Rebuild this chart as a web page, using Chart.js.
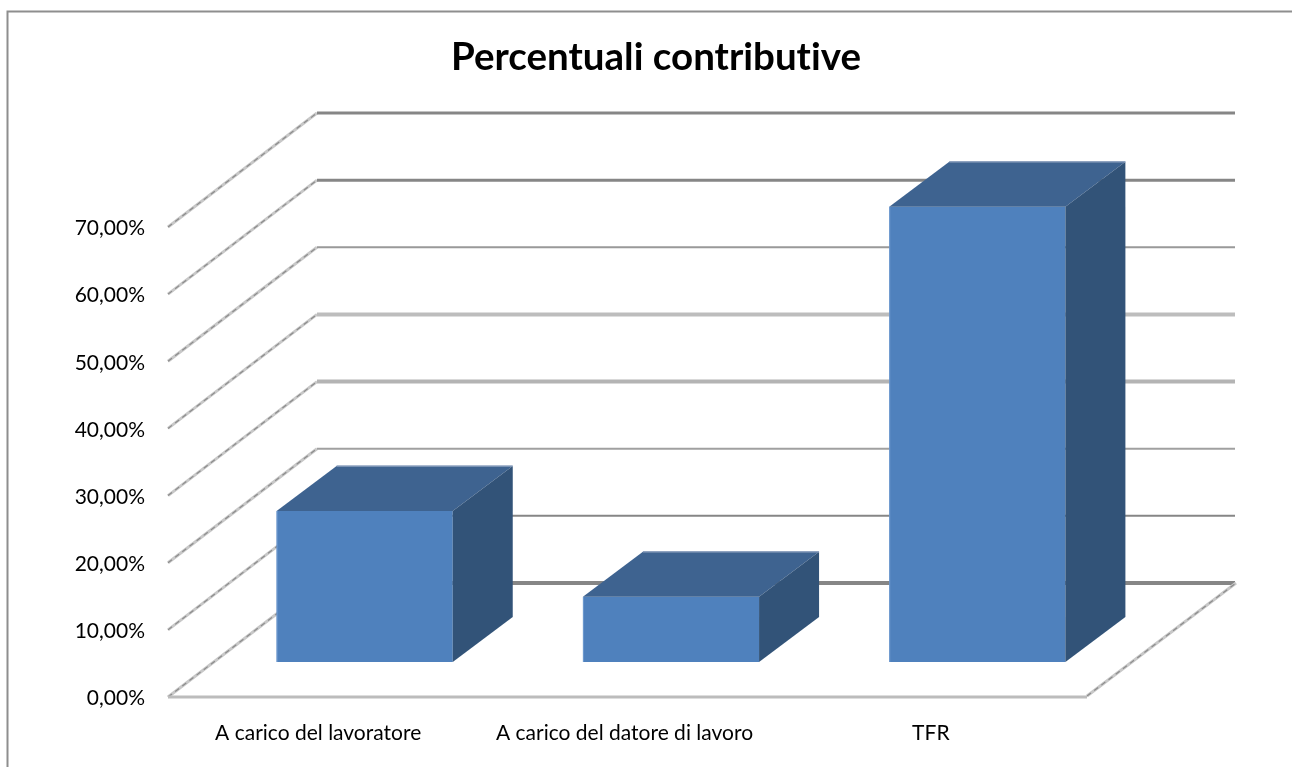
<!DOCTYPE html>
<html>
<head>
<meta charset="utf-8">
<title>Percentuali contributive</title>
<script src="https://cdn.jsdelivr.net/npm/chart.js@4/dist/chart.umd.min.js"></script>
<style>
    html, body { margin: 0; padding: 0; background: #fff; overflow: hidden; }
    #wrap { width: 1292px; height: 767px; }
</style>
</head>
<body>
<div id="wrap"><canvas id="contribChart" width="1292" height="767"></canvas></div>
<script>
const categories = ['A carico del lavoratore', 'A carico del datore di lavoro', 'TFR'];
const percentuali = [22.5, 9.7, 67.8];
const tickValues = [0, 10, 20, 30, 40, 50, 60, 70];

// fake 3D: how far the back wall sits from the front plane, and where the bars stand in between
const WALL = { dx: 149, dy: 114 };
const BAR_SHIFT = { dx: 43.5, dy: 35 };
const BAR_DEPTH = { dx: 60, dy: 45 };
const FRONT = '#4f81bd', TOP = '#3e6390', SIDE = '#325378';
const FONT = 'Lato, "Liberation Sans", sans-serif';

// the reference grid lines were resampled, so they differ in weight from back to front
const wallLineStyles = [
    { w: 3, c: '#868686' }, { w: 3, c: '#868686' }, { w: 2, c: '#999' }, { w: 4, c: '#bdbdbd' },
    { w: 4, c: '#b4b4b4' }, { w: 2, c: '#a0a0a0' }, { w: 2, c: '#868686' }, { w: 4, c: '#868686' }
];

function poly(ctx, pts, fill) {
    ctx.beginPath();
    pts.forEach((p, i) => i ? ctx.lineTo(p[0], p[1]) : ctx.moveTo(p[0], p[1]));
    ctx.closePath();
    ctx.fillStyle = fill;
    ctx.fill();
}

function line(ctx, x1, y1, x2, y2, width, color) {
    ctx.beginPath();
    ctx.moveTo(x1, y1);
    ctx.lineTo(x2, y2);
    ctx.lineWidth = width;
    ctx.strokeStyle = color;
    ctx.stroke();
}

function diagonal(ctx, x1, y1, x2, y2) {
    line(ctx, x1, y1, x2, y2, 3, '#c8c8c8');
    ctx.setLineDash([5, 4]);
    line(ctx, x1, y1, x2, y2, 1.2, '#8c8c8c');
    ctx.setLineDash([]);
}

const box3d = {
    id: 'box3d',
    beforeDraw(chart) {
        const ctx = chart.ctx;
        // no "ti" ligature in the title
        ctx.textRendering = 'optimizeSpeed';
        ctx.save();
        // chart frame, right and bottom edges fall outside the shot
        ctx.beginPath();
        ctx.moveTo(7.5, chart.height);
        ctx.lineTo(7.5, 11.5);
        ctx.lineTo(chart.width, 11.5);
        ctx.lineWidth = 2;
        ctx.strokeStyle = '#8e8e8e';
        ctx.stroke();
        ctx.restore();
    },
    beforeDatasetsDraw(chart) {
        const ctx = chart.ctx, area = chart.chartArea, y = chart.scales.y;
        ctx.save();
        tickValues.forEach((v, i) => {
            const py = y.getPixelForValue(v);
            diagonal(ctx, area.left, py, area.left + WALL.dx, py - WALL.dy);
            const st = wallLineStyles[tickValues.length - 1 - i];
            line(ctx, area.left + WALL.dx, py - WALL.dy, area.right + WALL.dx - 1, py - WALL.dy, st.w, st.c);
        });
        const y0 = y.getPixelForValue(0);
        line(ctx, area.left, y0, area.right, y0, 3, '#bcbcbc');
        diagonal(ctx, area.right, y0 - 1, area.right + WALL.dx, y0 - WALL.dy);
        ctx.restore();
    },
    beforeDatasetDraw(chart) {
        chart.ctx.save();
        chart.ctx.translate(BAR_SHIFT.dx, -BAR_SHIFT.dy);
    },
    afterDatasetDraw(chart, args) {
        const ctx = chart.ctx;
        args.meta.data.forEach(bar => {
            const l = bar.x - bar.width / 2, r = bar.x + bar.width / 2, t = bar.y, b = bar.base;
            const dx = BAR_DEPTH.dx, dy = BAR_DEPTH.dy;
            poly(ctx, [[l, t], [l + dx, t - dy], [r + dx, t - dy], [r, t]], TOP);
            poly(ctx, [[r, t], [r + dx, t - dy], [r + dx, b - dy], [r, b]], SIDE);
            // lighter edges left by the original renderer
            line(ctx, l + dx, t - dy, r + dx, t - dy, 1.5, '#8fa3c0');
            line(ctx, l + 0.5, t, l + 0.5, b, 1, '#6f9ad0');
        });
        ctx.restore();
    }
};

new Chart(document.getElementById('contribChart'), {
    type: 'bar',
    data: {
        labels: categories,
        datasets: [{
            label: 'Percentuali contributive',
            data: percentuali,
            backgroundColor: FRONT,
            borderWidth: 0,
            barPercentage: 1,
            categoryPercentage: 0.575
        }]
    },
    plugins: [box3d],
    options: {
        responsive: false,
        animation: false,
        layout: { padding: { left: 20, top: 0, right: 0, bottom: 0 } },
        plugins: {
            legend: { display: false },
            tooltip: { enabled: false },
            title: {
                display: true,
                text: 'Percentuali contributive',
                color: '#000',
                font: { family: FONT, size: 38.5, weight: 'bold', lineHeight: 1.2 },
                padding: { top: 34, bottom: 146.8 }
            }
        },
        scales: {
            x: {
                grid: { display: false, drawTicks: false },
                border: { display: false },
                ticks: { color: '#000', font: { family: FONT, size: 21 }, padding: 24, maxRotation: 0, labelOffset: -3 },
                afterFit(scale) { scale.height = 70; }
            },
            y: {
                min: 0,
                max: 70,
                grid: { display: false, drawTicks: false },
                border: { display: false },
                afterBuildTicks(scale) { scale.ticks = tickValues.map(v => ({ value: v })); },
                ticks: {
                    color: '#000',
                    font: { family: FONT, size: 21 },
                    padding: 23,
                    labelOffset: 1.5,
                    callback: v => v.toFixed(2).replace('.', ',') + '%'
                },
                afterFit(scale) { scale.width = 148; }
            },
            // empty strip on the right so the plot stops short of the frame while the title stays centred on it
            gutter: {
                position: 'right',
                grid: { display: false, drawTicks: false },
                border: { display: false },
                ticks: { display: false },
                afterFit(scale) { scale.width = 205; }
            }
        }
    }
});
</script>
</body>
</html>
